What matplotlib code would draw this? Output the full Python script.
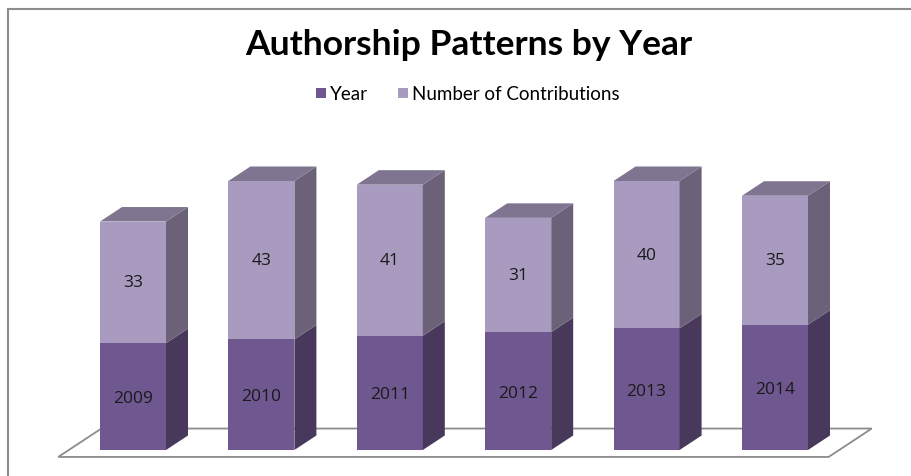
import numpy as np
import matplotlib.pyplot as plt
from matplotlib.patches import Polygon

# data
years = ['2009', '2010', '2011', '2012', '2013', '2014']
year_vals = [2009, 2010, 2011, 2012, 2013, 2014]
contrib = [33, 43, 41, 31, 40, 35]
axis_min = 1980

# colours
c_year = ['#6f5790', '#48385c']      # front, side
c_cont = ['#a99bbf', '#6b6179']
c_top = '#7f7591'

W, H = 912, 477
fig = plt.figure(figsize=(W / 100, H / 100), dpi=100)
fig.patch.set_facecolor('white')

# axes in category / value units (px scale: 128.4 px per category, 3.685 px per unit)
ax = fig.add_axes([0, 0, 1, 1])
ppc, ppv = 128.4, 3.685
x0px, y0px = 133, 451
ax.set_xlim(-x0px / ppc, (W - x0px) / ppc)
ax.set_ylim(axis_min - (H - y0px) / ppv, axis_min + y0px / ppv)
ax.axis('off')

bw = 66 / ppc
ddx, ddy = 22 / ppc, 14.5 / ppv   # depth vector of a bar


def box(xc, lo, hi, front, side, top=None):
    xl, xr = xc - bw / 2, xc + bw / 2
    ax.add_patch(Polygon([(xl, lo), (xr, lo), (xr, hi), (xl, hi)], closed=True,
                         fc=front, ec='none', zorder=3))
    ax.add_patch(Polygon([(xr, lo), (xr + ddx, lo + ddy), (xr + ddx, hi + ddy), (xr, hi)],
                         closed=True, fc=side, ec='none', zorder=3))
    if top:
        ax.add_patch(Polygon([(xl, hi), (xr, hi), (xr + ddx, hi + ddy), (xl + ddx, hi + ddy)],
                             closed=True, fc=top, ec='none', zorder=3))


# floor
f0, f1 = -0.48, 1.48
fl = [(-0.5 + f0 * ddx, axis_min + f0 * ddy), (5.5 + f0 * ddx, axis_min + f0 * ddy),
      (5.5 + f1 * ddx, axis_min + f1 * ddy), (-0.5 + f1 * ddx, axis_min + f1 * ddy)]
ax.add_patch(Polygon(fl, closed=True, fc='white', ec='#8c8c8c', lw=1.3, zorder=1))

for i in range(len(years)):
    y = year_vals[i]
    c = contrib[i]
    box(i, axis_min, y, c_year[0], c_year[1])
    box(i, y, y + c, c_cont[0], c_cont[1], c_top)
    ax.text(i, (axis_min + y) / 2 - 0.4, years[i], ha='center', va='center',
            fontsize=12.5, color='#1a1a1a', family='Open Sans', zorder=4)
    ax.text(i, y + c / 2, str(c), ha='center', va='center',
            fontsize=12.5, color='#1a1a1a', family='Open Sans', zorder=4)

# chart frame (top and left only visible)
fig.add_artist(plt.Line2D([8.5 / W, 1], [1 - 10 / H, 1 - 10 / H], color='#8c8c8c', lw=1.5))
fig.add_artist(plt.Line2D([8.5 / W, 8.5 / W], [0, 1 - 10 / H], color='#8c8c8c', lw=1.5))

fig.text(469 / W, 1 - 45 / H, 'Authorship Patterns by Year', ha='center', va='center',
         fontsize=25.5, fontweight='bold', family='Lato', color='black')

# legend
ly = 1 - 94 / H
fig.patches.append(plt.Rectangle((316 / W, ly - 5 / H), 10 / W, 10 / H, fc=c_year[0],
                                 transform=fig.transFigure, figure=fig))
fig.text(330 / W, ly, 'Year', ha='left', va='center', fontsize=13.5, family='Lato')
fig.patches.append(plt.Rectangle((398 / W, ly - 5 / H), 10 / W, 10 / H, fc=c_cont[0],
                                 transform=fig.transFigure, figure=fig))
fig.text(412 / W, ly, 'Number of Contributions', ha='left', va='center', fontsize=13.5, family='Lato')

fig.savefig('out.png', dpi=100)
